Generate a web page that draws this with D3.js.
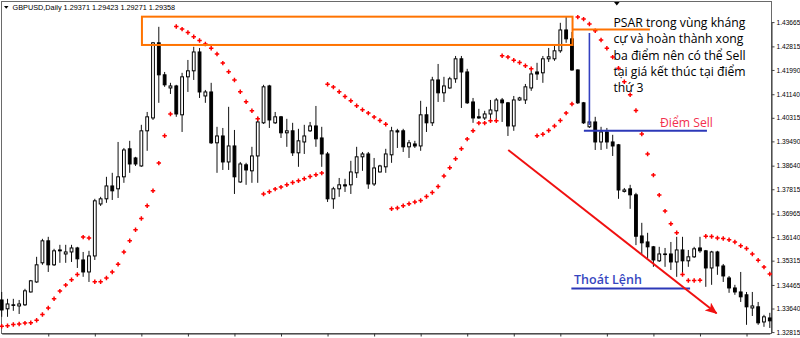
<!DOCTYPE html>
<html>
<head>
<meta charset="utf-8">
<style>
  body { margin: 0; background: #fff; }
  svg { display: block; }
  .ann { font-family: "Open Sans", sans-serif; }
</style>
</head>
<body>
<svg id="chart" width="800" height="338"></svg>
<script src="https://d3js.org/d3.v7.min.js"></script>
<script>
  // GBPUSD daily candles (oldest first)
  var openP = [1.3394,1.3363,1.3377,1.3373,1.3377,1.3422,1.3457,1.3524,1.3601,1.3517,
    1.3569,1.3555,1.3562,1.3576,1.3534,1.3492,1.3548,1.3730,1.3748,1.3793,
    1.3783,1.3825,1.3923,1.3891,1.3863,1.3986,1.4031,1.4294,1.4182,1.4136,
    1.4143,1.4042,1.4175,1.4196,1.4262,1.4108,1.4122,1.3944,1.3968,1.3877,
    1.3933,1.3807,1.3867,1.3846,1.3898,1.4014,1.4143,1.4014,1.4035,1.3979,
    1.3986,1.3909,1.3947,1.3986,1.4003,1.3961,1.3905,1.3748,1.3783,1.3797,
    1.3797,1.3839,1.3895,1.3905,1.3800,1.3842,1.3860,1.3902,1.3986,1.3986,
    1.3930,1.3940,1.3933,1.4042,1.4014,1.4164,1.4119,1.4136,1.4168,1.4238,
    1.4192,1.4087,1.4035,1.4031,1.4045,1.4056,1.4094,1.4084,1.4003,1.4094,
    1.4094,1.4136,1.4192,1.4189,1.4238,1.4238,1.4266,1.4339,1.4308,1.4199,
    1.4084,1.4000,1.4017,1.3947,1.3982,1.3947,1.3937,1.3774,1.3783,1.3762,
    1.3618,1.3597,1.3580,1.3531,1.3555,1.3555,1.3527,1.3569,1.3531,1.3545,
    1.3576,1.3566,1.3506,1.3562,1.3513,1.3471,1.3436,1.3422,1.3412,1.3366,
    1.3370,1.3317,1.3331]
  var highP = [1.3422,1.3398,1.3398,1.3394,1.3433,1.3464,1.3545,1.3608,1.3615,1.3573,
    1.3587,1.3587,1.3587,1.3580,1.3562,1.3566,1.3748,1.3755,1.3825,1.3839,
    1.3947,1.3926,1.3951,1.3895,1.4007,1.4052,1.4297,1.4350,1.4192,1.4154,
    1.4147,1.4189,1.4234,1.4280,1.4276,1.4129,1.4154,1.4000,1.3996,1.4070,
    1.3989,1.3877,1.3874,1.3930,1.4035,1.4147,1.4147,1.4052,1.4038,1.4028,
    1.4014,1.3993,1.4007,1.4017,1.4073,1.4000,1.3912,1.3790,1.3821,1.3818,
    1.3881,1.3930,1.3912,1.3912,1.3891,1.3867,1.3923,1.4000,1.3993,1.3993,
    1.3954,1.3951,1.4091,1.4070,1.4175,1.4220,1.4175,1.4175,1.4248,1.4248,
    1.4203,1.4101,1.4063,1.4056,1.4094,1.4101,1.4101,1.4087,1.4108,1.4105,
    1.4150,1.4196,1.4224,1.4248,1.4276,1.4283,1.4364,1.4385,1.4332,1.4201,
    1.4087,1.4024,1.4035,1.4000,1.3996,1.3972,1.3940,1.3786,1.3797,1.3769,
    1.3664,1.3629,1.3583,1.3580,1.3576,1.3597,1.3615,1.3615,1.3569,1.3580,
    1.3615,1.3569,1.3566,1.3566,1.3520,1.3478,1.3447,1.3492,1.3422,1.3422,
    1.3387,1.3342,1.3349]
  var lowP = [1.3335,1.3335,1.3356,1.3345,1.3373,1.3420,1.3454,1.3517,1.3492,1.3513,
    1.3524,1.3524,1.3527,1.3506,1.3475,1.3457,1.3534,1.3723,1.3734,1.3744,
    1.3751,1.3804,1.3839,1.3863,1.3860,1.3916,1.4024,1.4084,1.4140,1.4115,
    1.4035,1.3982,1.4122,1.4164,1.4101,1.4084,1.3940,1.3839,1.3849,1.3849,
    1.3765,1.3804,1.3797,1.3804,1.3804,1.4010,1.3996,1.4010,1.3961,1.3930,
    1.3898,1.3860,1.3905,1.3982,1.3930,1.3860,1.3737,1.3713,1.3755,1.3772,
    1.3765,1.3821,1.3846,1.3783,1.3793,1.3840,1.3839,1.3874,1.3926,1.3912,
    1.3891,1.3926,1.3916,1.3982,1.4003,1.4087,1.4087,1.4133,1.4154,1.4066,
    1.4080,1.4014,1.4028,1.4024,1.4028,1.4021,1.4017,1.3968,1.3986,1.4091,
    1.4080,1.4126,1.4164,1.4154,1.4227,1.4231,1.4259,1.4294,1.4196,1.4080,
    1.4010,1.3996,1.3919,1.3919,1.3923,1.3898,1.3748,1.3770,1.3713,1.3586,
    1.3555,1.3541,1.3510,1.3527,1.3510,1.3499,1.3475,1.3489,1.3510,1.3541,
    1.3559,1.3440,1.3447,1.3482,1.3457,1.3419,1.3412,1.3387,1.3307,1.3338,
    1.3307,1.3300,1.3296]
  var closeP = [1.3359,1.3380,1.3375,1.3380,1.3426,1.3461,1.3517,1.3601,1.3517,1.3566,
    1.3566,1.3562,1.3576,1.3538,1.3492,1.3548,1.3741,1.3748,1.3793,1.3776,
    1.3825,1.3919,1.3870,1.3870,1.3986,1.4035,1.4294,1.4182,1.4147,1.4143,
    1.4045,1.4175,1.4196,1.4262,1.4122,1.4122,1.3944,1.3968,1.3877,1.3933,
    1.3825,1.3870,1.3849,1.3898,1.4017,1.4140,1.4024,1.4035,1.3979,1.3986,
    1.3909,1.3951,1.3968,1.4003,1.3958,1.3905,1.3748,1.3783,1.3797,1.3793,
    1.3842,1.3895,1.3905,1.3800,1.3856,1.3863,1.3905,1.3986,1.3982,1.3930,
    1.3944,1.3933,1.4042,1.4014,1.4164,1.4119,1.4143,1.4168,1.4238,1.4192,
    1.4084,1.4031,1.4031,1.4045,1.4059,1.4094,1.4084,1.4003,1.4094,1.4101,
    1.4140,1.4185,1.4185,1.4238,1.4245,1.4266,1.4339,1.4308,1.4199,1.4084,
    1.4014,1.4017,1.3947,1.3982,1.3947,1.3933,1.3779,1.3779,1.3762,1.3617,
    1.3594,1.3580,1.3534,1.3555,1.3553,1.3527,1.3569,1.3531,1.3545,1.3573,
    1.3566,1.3506,1.3562,1.3513,1.3478,1.3436,1.3422,1.3405,1.3370,1.3373,
    1.3314,1.3335,1.3321]
  // Parabolic SAR dots
  var psar = [1.3302,1.3304,1.3308,1.3310,1.3313,1.3314,1.3323,1.3343,1.3366,1.3398,
    1.3425,1.3446,1.3465,1.3483,1.3614,1.3611,1.3458,1.3458,1.3471,1.3492,
    1.3519,1.3562,1.3601,1.3640,1.3679,1.3724,1.3776,1.3873,1.3969,1.4045,
    1.4351,1.4342,1.4330,1.4315,1.4302,1.4290,1.4275,1.4255,1.4223,1.4193,
    1.4164,1.4123,1.4088,1.4056,1.4028,1.3765,1.3773,1.3782,1.3789,1.3797,
    1.3805,1.3811,1.3818,1.3826,1.3832,1.3838,1.4149,1.4139,1.4123,1.4106,
    1.4091,1.4074,1.4060,1.4048,1.4034,1.4022,1.4009,1.3713,1.3716,1.3724,
    1.3731,1.3737,1.3742,1.3756,1.3770,1.3791,1.3828,1.3857,1.3888,1.3923,
    1.3957,1.3986,1.4013,1.4013,1.4021,1.4021,1.4249,1.4244,1.4233,1.4225,
    1.4214,1.4203,1.3969,1.3974,1.3987,1.4003,1.4022,1.4048,1.4080,1.4384,
    1.4377,1.4360,1.4336,1.4304,1.4275,1.4244,1.4205,1.4158,1.4112,1.4057,
    1.3975,1.3905,1.3831,1.3761,1.3705,1.3661,1.3629,1.3483,1.3462,1.3462,
    1.3463,1.3617,1.3616,1.3611,1.3609,1.3605,1.3597,1.3584,1.3574,1.3555,
    1.3533,1.3509,1.3485]
  var priceTicks = [1.43665,1.42815,1.41990,1.41140,1.40315,1.39490,1.38640,
    1.37815,1.36965,1.36140,1.35315,1.34465,1.33640,1.32815]
  var header = "GBPUSD,Daily  1.29371 1.29423 1.29271 1.29358"
  var noteLines = ["PSAR trong vùng kháng", "cự và hoàn thành xong",
    "ba điểm nên có thể Sell", "tại giá kết thúc tại điểm", "thứ 3"]

  var data = openP.map((o, i) => ({ i: i, o: o, h: highP[i], l: lowP[i], c: closeP[i], sar: psar[i] }))

  var svg = d3.select("#chart")
  var x = d3.scaleLinear().domain([0, data.length - 1]).range([1.7, 769.8])
  var y = d3.scaleLinear().domain([1.32815, 1.43665]).range([332.1, 22.1])

  // chart frame
  svg.append("rect").attr("x", 1.5).attr("y", 1.5).attr("width", 770).attr("height", 332)
    .attr("fill", "#fff").attr("stroke", "#6a6a6a")

  // price axis on the right
  var yAxis = svg.append("g").attr("transform", "translate(771.5,0)")
    .call(d3.axisRight(y).tickValues(priceTicks).tickSize(3).tickSizeOuter(0).tickPadding(2)
      .tickFormat(d3.format(".5f")))
  yAxis.select(".domain").attr("stroke", "#333")
  yAxis.selectAll("text").style("font-family", "'Liberation Sans', Arial, sans-serif")
    .style("font-size", "6.6px").attr("fill", "#000")
  yAxis.selectAll("line").attr("stroke", "#444")

  // time axis: tick marks only, every 8 bars
  var xAxis = svg.append("g").attr("transform", "translate(0,333.5)")
    .call(d3.axisBottom(x).tickValues(d3.range(8, data.length, 8)).tickSize(3).tickSizeOuter(0).tickFormat(""))
  xAxis.select(".domain").attr("stroke", "#333")
  xAxis.selectAll("line").attr("stroke", "#333")

  // candles
  var candles = svg.append("g")
  candles.selectAll(".wick").data(data).enter().append("line")
    .attr("class", "wick")
    .attr("x1", d => x(d.i)).attr("x2", d => x(d.i))
    .attr("y1", d => y(d.h)).attr("y2", d => y(d.l))
    .attr("stroke", "#111").attr("stroke-width", 1)
  candles.selectAll(".body").data(data).enter().append("rect")
    .attr("class", "body")
    .attr("x", d => x(d.i) - 1.4)
    .attr("width", 2.8)
    .attr("y", d => y(Math.max(d.o, d.c)))
    .attr("height", d => Math.max(Math.abs(y(d.o) - y(d.c)), 0.6))
    .attr("fill", d => d.c >= d.o ? "#fff" : "#000")
    .attr("stroke", "#000").attr("stroke-width", 1)

  // parabolic SAR
  svg.append("g").selectAll("path").data(data).enter().append("path")
    .attr("transform", d => "translate(" + x(d.i) + "," + y(d.sar) + ")")
    .attr("d", d3.symbol().type(d3.symbolCross).size(11))
    .attr("fill", "#ff0000")

  // header
  svg.append("path").attr("d", "M4,6 L8.5,6 L6.25,8.8 Z").attr("fill", "#000")
  svg.append("text").attr("x", 12.5).attr("y", 10)
    .style("font-family", "'Liberation Sans', Arial, sans-serif").style("font-size", "7.3px")
    .attr("fill", "#000").text(header)
  svg.append("path").attr("d", "M614,2 L619.6,2 L616.8,5.6 Z").attr("fill", "#000")

  // resistance zone
  svg.append("rect")
    .attr("x", x(24.1)).attr("y", y(1.43855))
    .attr("width", x(98.1) - x(24.1)).attr("height", y(1.42865) - y(1.43855))
    .attr("fill", "none").attr("stroke", "#ff7300").attr("stroke-width", 2)
  svg.append("line")
    .attr("x1", x(98.1)).attr("x2", x(111.4)).attr("y1", y(1.43407)).attr("y2", y(1.43407))
    .attr("stroke", "#ff7300").attr("stroke-width", 2)

  // sell point
  svg.append("line")
    .attr("x1", x(101)).attr("x2", x(101)).attr("y1", y(1.43285)).attr("y2", y(1.40065))
    .attr("stroke", "#3340c0").attr("stroke-width", 1.6)
  svg.append("line")
    .attr("x1", x(100.05)).attr("x2", x(121.2)).attr("y1", y(1.39865)).attr("y2", y(1.39865))
    .attr("stroke", "#2c38b8").attr("stroke-width", 2)

  // exit line
  svg.append("line")
    .attr("x1", x(97.9)).attr("x2", x(118.3)).attr("y1", y(1.34342)).attr("y2", y(1.34342))
    .attr("stroke", "#2c38b8").attr("stroke-width", 2)

  // trend arrow
  svg.append("defs").append("marker")
    .attr("id", "head").attr("viewBox", "0 0 12 10").attr("refX", 11).attr("refY", 5)
    .attr("markerWidth", 12).attr("markerHeight", 10).attr("markerUnits", "userSpaceOnUse")
    .attr("orient", "auto")
    .append("path").attr("d", "M0,0 L12,5 L0,10 L3,5 Z").attr("fill", "#f01010")
  svg.append("line")
    .attr("x1", x(87.05)).attr("y1", y(1.3919)).attr("x2", x(122.85)).attr("y2", y(1.33474))
    .attr("stroke", "#f01010").attr("stroke-width", 2).attr("marker-end", "url(#head)")

  // notes
  svg.append("g").selectAll("text").data(noteLines).enter().append("text")
    .attr("class", "ann")
    .attr("x", 613.5).attr("y", (d, i) => 27.3 + i * 16.1)
    .style("font-size", "12.2px").attr("fill", "#000").text(d => d)
  svg.append("text").attr("class", "ann").attr("x", 660).attr("y", 126.7)
    .style("font-size", "12.2px").attr("fill", "#f2304e").text("Điểm Sell")
  svg.append("text").attr("class", "ann").attr("x", 574).attr("y", 283.5)
    .style("font-size", "12.5px").style("font-weight", 600).attr("fill", "#3646c0").text("Thoát Lệnh")
</script>
</body>
</html>
